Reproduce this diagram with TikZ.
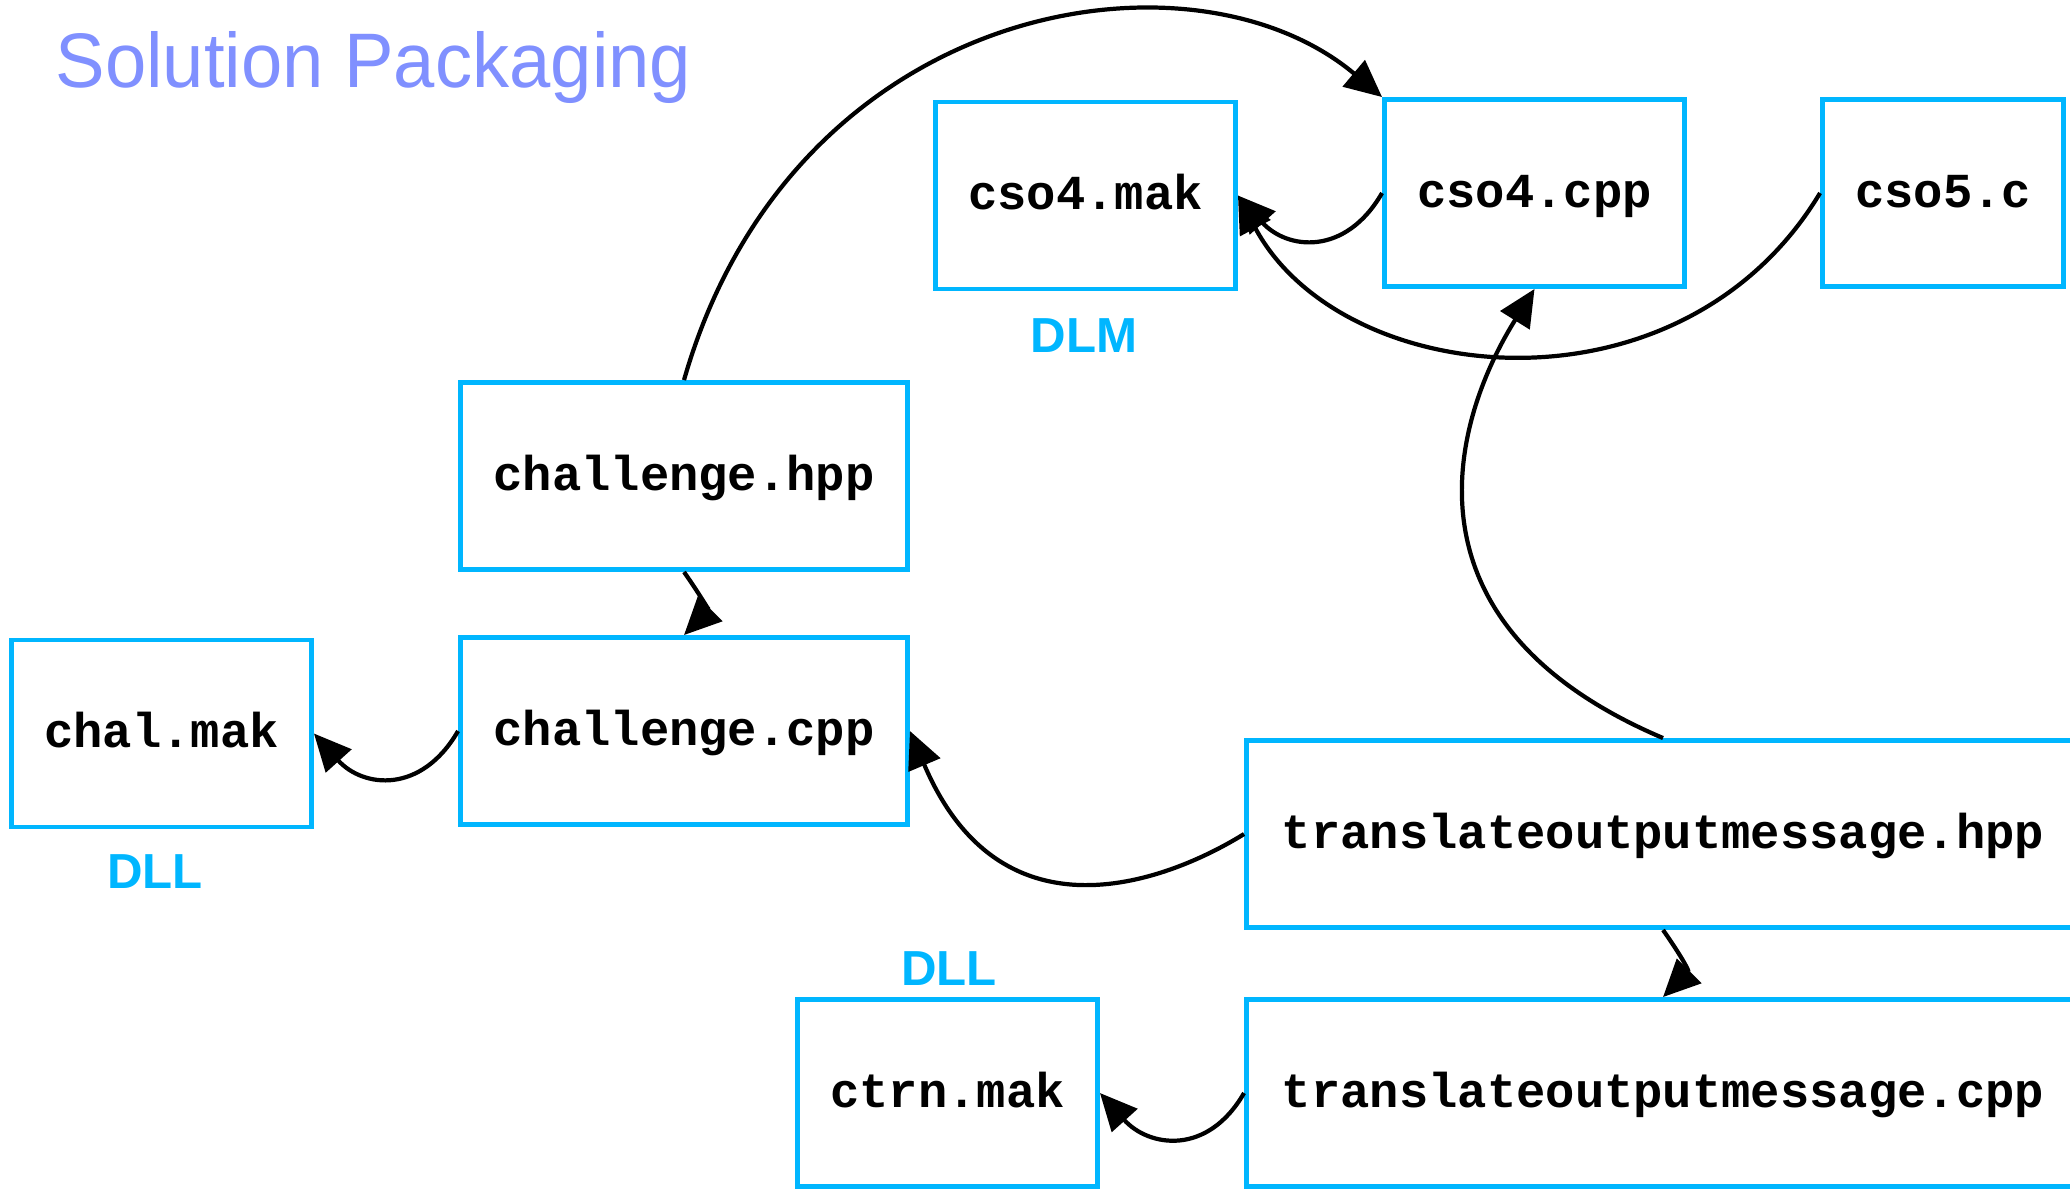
\documentclass[tikz,border=0pt]{standalone}
\usepackage{fontspec}
\usetikzlibrary{arrows.meta}
\setmainfont{Liberation Sans}
\setmonofont{Liberation Mono}
\newfontfamily\headfont[FakeStretch=0.96]{Liberation Sans}

\definecolor{filecyan}{RGB}{0,182,255}
\definecolor{headblue}{RGB}{128,144,255}

\begin{document}
\begin{tikzpicture}

      \useasboundingbox (0,0) rectangle (20.7,-11.89);

      \node[anchor=base west,inner sep=0,text=headblue,font=\headfont\fontsize{22}{26}\selectfont] (title) at (0.55,-0.87) {Solution Packaging};

      \begin{scope}[every node/.style={draw=filecyan,line width=1.4pt,inner sep=0,text height=0.8em,text depth=0pt,minimum width=3cm,minimum height=1.87cm,font=\ttfamily\bfseries\fontsize{13.9}{16}\selectfont}]
        \node (cso4mak) at (10.855,-1.955) {cso4.mak};
        \node (cso4cpp) at (15.345,-1.93) {cso4.cpp};
        \node[minimum width=2.41cm] (cso5c) at (19.43,-1.93) {cso5.c};
        \node[minimum width=4.47cm] (chalhpp) at (6.84,-4.76) {challenge.hpp};
        \node[minimum width=4.47cm] (chalcpp) at (6.84,-7.31) {challenge.cpp};
        \node (chalmak) at (1.615,-7.335) {chal.mak};
        \node[minimum width=8.33cm] (tomhpp) at (16.63,-8.34) {translateoutputmessage.hpp};
        \node[minimum width=8.33cm] (tomcpp) at (16.63,-10.93) {translateoutputmessage.cpp};
        \node (ctrnmak) at (9.475,-10.93) {ctrn.mak};
      \end{scope}

      \begin{scope}[every node/.style={inner sep=0,text=filecyan,font=\bfseries\fontsize{14}{16}\selectfont}]
        \node (dlm) at (10.84,-3.36) {DLM};
        \node (dllchal) at (1.55,-8.72) {DLL};
        \node (dllctrn) at (9.49,-9.69) {DLL};
      \end{scope}

      \begin{scope}[every edge/.style={draw,line width=1.2pt,-{Triangle[length=3.7mm,width=3.4mm]}}]
        \path (chalhpp.north) edge[out=74,in=140,out distance=3.95cm,in distance=2.5cm] (cso4cpp.north west);
        \path (cso4cpp.west) edge[out=-120,in=-48,looseness=1.3] (cso4mak.east);
        \path (cso5c.west) edge[out=-121,in=-62,out distance=2.7cm,in distance=2.2cm] (cso4mak.east);
        \path (tomhpp.north) edge[out=157,in=-122,out distance=2.9cm,in distance=1.6cm] (cso4cpp.south);
        \path (tomhpp.west) edge[out=-148,in=-67,out distance=0.6cm,in distance=2.5cm] (chalcpp.east);
        \path (chalhpp.south) edge[out=-55,in=45,looseness=1.4] (chalcpp.north);
        \path (tomhpp.south) edge[out=-55,in=45,looseness=1.4] (tomcpp.north);
        \path (chalcpp.west) edge[out=-120,in=-48,looseness=1.3] (chalmak.east);
        \path (tomcpp.west) edge[out=-120,in=-48,looseness=1.3] (ctrnmak.east);
      \end{scope}

\end{tikzpicture}
\end{document}
